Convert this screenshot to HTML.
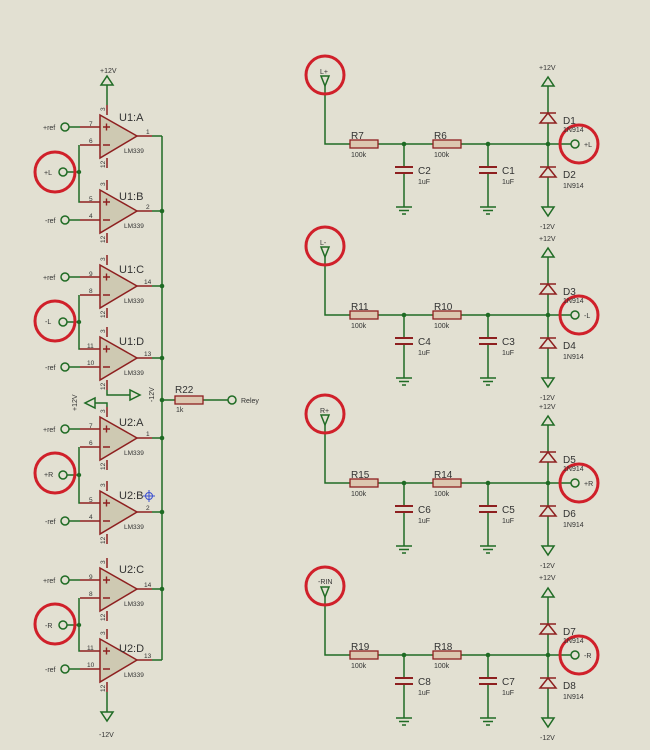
<!DOCTYPE html>
<html><head><meta charset="utf-8"><style>
html,body{margin:0;padding:0;background:#e2e0d2;}
svg{display:block;font-family:"Liberation Sans",sans-serif;}
.g{stroke:#1f6b24;stroke-width:1.5;fill:none}
.r{stroke:#8e2020;stroke-width:1.5;fill:none}
.rc{stroke:#d0202a;stroke-width:3;fill:none}
.t7{font-size:7px;fill:#333}
.t6{font-size:6.5px;fill:#333}
.t11{font-size:11px;fill:#333}
.t10{font-size:10px;fill:#333}
</style></head><body>
<svg width="650" height="750" viewBox="0 0 650 750" xmlns="http://www.w3.org/2000/svg">
<rect width="650" height="750" fill="#e2e0d2"/>
<defs>
<g id="oa">
  <path class="r" d="M80,-9H100M80,9H100M107,-21V-31M107,22V32M137,0H152"/>
  <path class="g" d="M152,0H162"/>
  <polygon points="100,-21 100,22 137,0" fill="#cec9b2" stroke="#8e2020" stroke-width="1.5"/>
  <path d="M103,-9H110M106.5,-12.5V-5.5M103,9H110" stroke="#8e2020" stroke-width="1.4"/>
</g>
<g id="blk">
  <path class="g" d="M325,-58V0H350M378,0H433M461,0H571M404,0V23M404,29V63M488,0V23M488,29V63M548,-58V63"/>
  <rect x="350" y="-4" width="28" height="8" fill="#dcc7b0" stroke="#8e2020" stroke-width="1.3"/>
  <rect x="433" y="-4" width="28" height="8" fill="#dcc7b0" stroke="#8e2020" stroke-width="1.3"/>
  <path d="M395,23H413M395,29H413M479,23H497M479,29H497" stroke="#8e2020" stroke-width="2"/>
  <path class="g" d="M396,63H412M399,66.5H409M402,70H406M480,63H496M483,66.5H493M486,70H490"/>
  <circle cx="404" cy="0" r="2.3" fill="#1f6b24"/><circle cx="488" cy="0" r="2.3" fill="#1f6b24"/><circle cx="548" cy="0" r="2.3" fill="#1f6b24"/>
  <polygon points="540,-21 556,-21 548,-31" fill="#e2e0d2" stroke="#8e2020" stroke-width="1.5"/>
  <path d="M540,-31H556M540,23H556" stroke="#8e2020" stroke-width="1.5"/>
  <polygon points="540,33 556,33 548,23" fill="#e2e0d2" stroke="#8e2020" stroke-width="1.5"/>
  <polygon class="g" points="548,-67 542,-58 554,-58"/>
  <polygon class="g" points="542,63 554,63 548,72"/>
  <circle class="g" cx="575" cy="0" r="4"/>
  <polygon class="g" points="321,-68 329,-68 325,-58"/>
  <circle class="rc" cx="325" cy="-69" r="19"/>
  <circle class="rc" cx="579" cy="0" r="19"/>
</g>
</defs>

<!-- right blocks -->
<use href="#blk" transform="translate(0,144)"/>
<use href="#blk" transform="translate(0,315)"/>
<use href="#blk" transform="translate(0,483)"/>
<use href="#blk" transform="translate(0,655)"/>

<g class="t7">
<text x="320" y="74">L+</text><text x="320" y="245">L-</text><text x="320" y="413">R+</text><text x="318" y="584">-RIN</text>
<text x="584" y="147">+L</text><text x="584" y="318">-L</text><text x="584" y="486">+R</text><text x="584" y="658">-R</text>
<text x="539" y="70">+12V</text><text x="539" y="241">+12V</text><text x="539" y="409">+12V</text><text x="539" y="580">+12V</text>
<text x="540" y="229">-12V</text><text x="540" y="400">-12V</text><text x="540" y="568">-12V</text><text x="540" y="740">-12V</text>
<text x="351" y="157">100k</text><text x="434" y="157">100k</text><text x="418" y="184">1uF</text><text x="502" y="184">1uF</text><text x="563" y="132">1N914</text><text x="563" y="188">1N914</text>
<text x="351" y="328">100k</text><text x="434" y="328">100k</text><text x="418" y="355">1uF</text><text x="502" y="355">1uF</text><text x="563" y="303">1N914</text><text x="563" y="359">1N914</text>
<text x="351" y="496">100k</text><text x="434" y="496">100k</text><text x="418" y="523">1uF</text><text x="502" y="523">1uF</text><text x="563" y="471">1N914</text><text x="563" y="527">1N914</text>
<text x="351" y="668">100k</text><text x="434" y="668">100k</text><text x="418" y="695">1uF</text><text x="502" y="695">1uF</text><text x="563" y="643">1N914</text><text x="563" y="699">1N914</text>
</g>
<g class="t10">
<text x="351" y="139">R7</text><text x="434" y="139">R6</text><text x="418" y="174">C2</text><text x="502" y="174">C1</text><text x="563" y="124">D1</text><text x="563" y="178">D2</text>
<text x="351" y="310">R11</text><text x="434" y="310">R10</text><text x="418" y="345">C4</text><text x="502" y="345">C3</text><text x="563" y="295">D3</text><text x="563" y="349">D4</text>
<text x="351" y="478">R15</text><text x="434" y="478">R14</text><text x="418" y="513">C6</text><text x="502" y="513">C5</text><text x="563" y="463">D5</text><text x="563" y="517">D6</text>
<text x="351" y="650">R19</text><text x="434" y="650">R18</text><text x="418" y="685">C8</text><text x="502" y="685">C7</text><text x="563" y="635">D7</text><text x="563" y="689">D8</text>
</g>

<!-- left opamps -->
<path class="g" d="M162,136V660M162,400H175M203,400H228"/>
<rect x="175" y="396" width="28" height="8" fill="#dcc7b0" stroke="#8e2020" stroke-width="1.3"/>
<circle class="g" cx="232" cy="400" r="4"/>
<g fill="#1f6b24"><circle cx="162" cy="211" r="2.3"/><circle cx="162" cy="286" r="2.3"/><circle cx="162" cy="358" r="2.3"/><circle cx="162" cy="400" r="2.3"/><circle cx="162" cy="438" r="2.3"/><circle cx="162" cy="512" r="2.3"/><circle cx="162" cy="589" r="2.3"/></g>

<use href="#oa" transform="translate(0,136)"/>
<use href="#oa" transform="translate(0,211)"/>
<use href="#oa" transform="translate(0,286)"/>
<use href="#oa" transform="translate(0,358)"/>
<use href="#oa" transform="translate(0,438)"/>
<use href="#oa" transform="translate(0,512)"/>
<use href="#oa" transform="translate(0,589)"/>
<use href="#oa" transform="translate(0,660)"/>

<!-- input wiring -->
<path class="g" d="M69,127H80M79,145V202H80M67,172H79M69,220H80
M69,277H80M79,295V349H80M67,322H79M69,367H80
M69,429H80M79,447V503H80M67,475H79M69,521H80
M69,580H80M79,598V651H80M67,625H79M69,669H80"/>
<g class="g">
<circle cx="65" cy="127" r="4"/><circle cx="65" cy="220" r="4"/><circle cx="63" cy="172" r="4"/>
<circle cx="65" cy="277" r="4"/><circle cx="65" cy="367" r="4"/><circle cx="63" cy="322" r="4"/>
<circle cx="65" cy="429" r="4"/><circle cx="65" cy="521" r="4"/><circle cx="63" cy="475" r="4"/>
<circle cx="65" cy="580" r="4"/><circle cx="65" cy="669" r="4"/><circle cx="63" cy="625" r="4"/>
</g>
<g fill="#1f6b24"><circle cx="79" cy="172" r="2.2"/><circle cx="79" cy="322" r="2.2"/><circle cx="79" cy="475" r="2.2"/><circle cx="79" cy="625" r="2.2"/></g>
<circle class="rc" cx="55" cy="172" r="20"/><circle class="rc" cx="55" cy="321" r="20"/><circle class="rc" cx="55" cy="473" r="20"/><circle class="rc" cx="55" cy="624" r="20"/>

<!-- supplies -->
<path class="g" d="M107,105V85M107,390V395H130M107,407V403H95M107,692V712"/>
<polygon class="g" points="101,85 113,85 107,76"/>
<polygon class="g" points="130,390 130,400 140,395"/>
<polygon class="g" points="95,398 95,408 85,403"/>
<polygon class="g" points="101,712 113,712 107,721"/>

<g class="t7">
<text x="100" y="73">+12V</text><text x="99" y="737">-12V</text>
<text transform="translate(154,402) rotate(-90)">-12V</text>
<text transform="translate(77,411) rotate(-90)">+12V</text>
<text x="241" y="403">Reley</text><text x="176" y="412">1k</text>
<text x="43" y="130">+ref</text><text x="45" y="223">-ref</text><text x="43" y="280">+ref</text><text x="45" y="370">-ref</text>
<text x="43" y="432">+ref</text><text x="45" y="524">-ref</text><text x="43" y="583">+ref</text><text x="45" y="672">-ref</text>
<text x="44" y="175">+L</text><text x="45" y="324">-L</text><text x="44" y="477">+R</text><text x="45" y="628">-R</text>
</g>
<g class="t10">
<text x="175" y="393">R22</text>
</g>
<g class="t11">
<text x="119" y="121">U1:A</text><text x="119" y="200">U1:B</text><text x="119" y="273">U1:C</text><text x="119" y="345">U1:D</text>
<text x="119" y="426">U2:A</text><text x="119" y="499">U2:B</text><text x="119" y="573">U2:C</text><text x="119" y="652">U2:D</text>
</g>
<g class="t6">
<text x="124" y="153">LM339</text><text x="124" y="228">LM339</text><text x="124" y="303">LM339</text><text x="124" y="375">LM339</text>
<text x="124" y="455">LM339</text><text x="124" y="529">LM339</text><text x="124" y="606">LM339</text><text x="124" y="677">LM339</text>
<text x="89" y="126">7</text><text x="89" y="143">6</text><text x="89" y="201">5</text><text x="89" y="218">4</text>
<text x="89" y="276">9</text><text x="89" y="293">8</text><text x="87" y="348">11</text><text x="87" y="365">10</text>
<text x="89" y="428">7</text><text x="89" y="445">6</text><text x="89" y="502">5</text><text x="89" y="519">4</text>
<text x="89" y="579">9</text><text x="89" y="596">8</text><text x="87" y="650">11</text><text x="87" y="667">10</text>
<text x="146" y="134">1</text><text x="146" y="209">2</text><text x="144" y="284">14</text><text x="144" y="356">13</text>
<text x="146" y="436">1</text><text x="146" y="510">2</text><text x="144" y="587">14</text><text x="144" y="658">13</text>
</g>
<g class="t6">
<text transform="translate(105,111) rotate(-90)">3</text><text transform="translate(105,186) rotate(-90)">3</text><text transform="translate(105,261) rotate(-90)">3</text><text transform="translate(105,333) rotate(-90)">3</text>
<text transform="translate(105,413) rotate(-90)">3</text><text transform="translate(105,487) rotate(-90)">3</text><text transform="translate(105,564) rotate(-90)">3</text><text transform="translate(105,635) rotate(-90)">3</text>
<text transform="translate(105,168) rotate(-90)">12</text><text transform="translate(105,243) rotate(-90)">12</text><text transform="translate(105,318) rotate(-90)">12</text><text transform="translate(105,390) rotate(-90)">12</text>
<text transform="translate(105,470) rotate(-90)">12</text><text transform="translate(105,544) rotate(-90)">12</text><text transform="translate(105,621) rotate(-90)">12</text><text transform="translate(105,692) rotate(-90)">12</text>
</g>
<g stroke="#3a4fd0" stroke-width="1" fill="none"><circle cx="149" cy="496" r="3.5"/><path d="M143,496H155M149,490V502"/></g>
</svg>
</body></html>
